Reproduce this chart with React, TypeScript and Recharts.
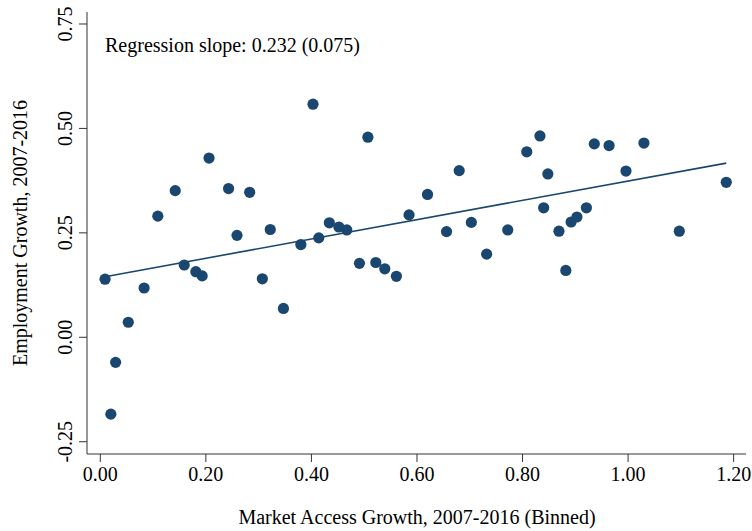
import React from "react";
import { ScatterChart, Scatter, XAxis, YAxis, ReferenceLine } from "recharts";

// binned scatter: market access growth (x) vs employment growth (y)
const marketAccessGrowth = [
  0.009, 0.020, 0.029, 0.053, 0.083, 0.109, 0.142, 0.159, 0.181, 0.193,
  0.206, 0.243, 0.259, 0.283, 0.307, 0.322, 0.347, 0.380, 0.403, 0.414,
  0.434, 0.452, 0.467, 0.491, 0.507, 0.522, 0.539, 0.561, 0.585, 0.620,
  0.656, 0.680, 0.703, 0.732, 0.772, 0.808, 0.833, 0.840, 0.848, 0.869,
  0.882, 0.892, 0.903, 0.921, 0.936, 0.964, 0.996, 1.030, 1.097, 1.186,
];
const employmentGrowth = [
  0.139, -0.184, -0.060, 0.036, 0.118, 0.290, 0.351, 0.173, 0.157, 0.147,
  0.429, 0.356, 0.244, 0.347, 0.140, 0.258, 0.069, 0.222, 0.558, 0.238,
  0.274, 0.264, 0.257, 0.177, 0.479, 0.179, 0.164, 0.146, 0.293, 0.342,
  0.253, 0.399, 0.275, 0.199, 0.257, 0.444, 0.482, 0.310, 0.391, 0.254,
  0.160, 0.276, 0.288, 0.310, 0.463, 0.459, 0.398, 0.465, 0.254, 0.371,
];

// fitted line end points
const fitX = [0.009, 1.186];
const fitY = [0.145, 0.417];

const xTicks = [0, 0.2, 0.4, 0.6, 0.8, 1.0, 1.2];
const yTicks = [-0.25, 0, 0.25, 0.5, 0.75];

const annotation = "Regression slope: 0.232 (0.075)";
const xTitle = "Market Access Growth, 2007-2016 (Binned)";
const yTitle = "Employment Growth, 2007-2016";

const NAVY = "#1a476f";
const AXIS = "#333";
const FONT = '"Liberation Serif", "Times New Roman", serif';

const points = marketAccessGrowth.map((x, i) => ({ x, y: employmentGrowth[i] }));

const XTick = ({ x, y, payload }: any) => (
  <text x={x} y={y + 19} textAnchor="middle" fontFamily={FONT} fontSize={20} fill="#000">
    {Number(payload.value).toFixed(2)}
  </text>
);

const YTick = ({ x, y, payload }: any) => {
  const tx = x - 7;
  return (
    <text
      x={tx}
      y={y}
      transform={`rotate(-90, ${tx}, ${y})`}
      textAnchor="middle"
      fontFamily={FONT}
      fontSize={20}
      fill="#000"
    >
      {Number(payload.value).toFixed(2)}
    </text>
  );
};

export default function App() {
  return (
    <div style={{ position: "absolute", left: 0, top: 0, width: 752, height: 531, background: "#fff" }}>
      <ScatterChart width={752} height={531} margin={{ top: 12, right: 6, bottom: 0, left: 0 }}>
        <XAxis
          type="number"
          dataKey="x"
          domain={[-0.0252, 1.2234]}
          ticks={xTicks}
          height={77}
          tickSize={8}
          tickMargin={0}
          tick={<XTick />}
          stroke={AXIS}
          tickLine={{ stroke: AXIS }}
          axisLine={{ stroke: AXIS }}
          allowDataOverflow
        />
        <YAxis
          type="number"
          dataKey="y"
          domain={[-0.2794, 0.7787]}
          ticks={yTicks}
          width={87}
          tickSize={8}
          tickMargin={0}
          tick={<YTick />}
          stroke={AXIS}
          tickLine={{ stroke: AXIS }}
          axisLine={{ stroke: AXIS }}
          allowDataOverflow
        />
        <ReferenceLine
          segment={[
            { x: fitX[0], y: fitY[0] },
            { x: fitX[1], y: fitY[1] },
          ]}
          stroke={NAVY}
          strokeWidth={1.6}
          ifOverflow="visible"
        />
        <Scatter
          data={points}
          isAnimationActive={false}
          shape={(p: any) => <circle cx={p.cx} cy={p.cy} r={5.6} fill={NAVY} />}
        />
      </ScatterChart>
      <svg
        width={752}
        height={531}
        style={{ position: "absolute", left: 0, top: 0, pointerEvents: "none" }}
      >
        <text x={105} y={52} fontFamily={FONT} fontSize={20} fill="#000">
          {annotation}
        </text>
        <text x={417} y={524} textAnchor="middle" fontFamily={FONT} fontSize={20} fill="#000">
          {xTitle}
        </text>
        <text
          x={27}
          y={233}
          transform="rotate(-90, 27, 233)"
          textAnchor="middle"
          fontFamily={FONT}
          fontSize={20}
          fill="#000"
        >
          {yTitle}
        </text>
      </svg>
    </div>
  );
}
